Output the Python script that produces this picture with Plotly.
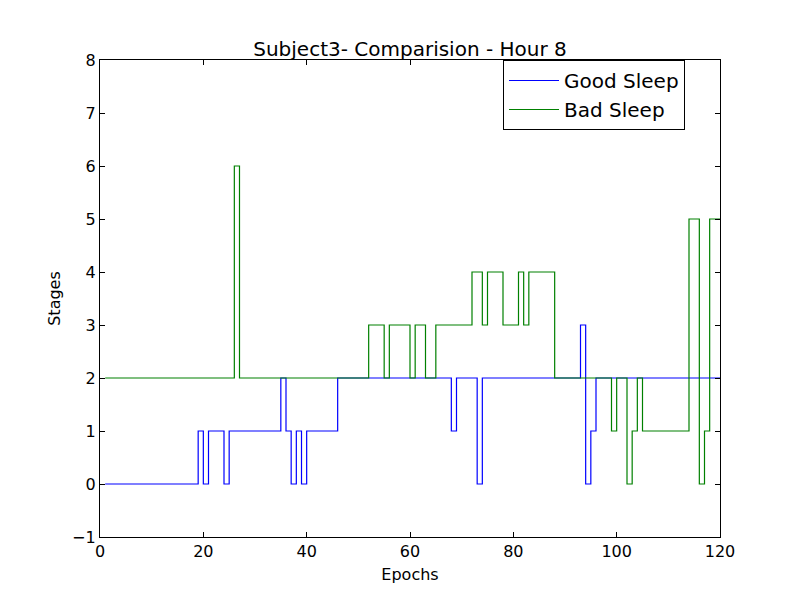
import plotly.graph_objects as go

# epochs 1..120, stage value held from each epoch to the next (step plot)
epochs = list(range(1, 121))

good_sleep = [0, 0, 0, 0, 0, 0, 0, 0, 0, 0, 0, 0, 0, 0, 0, 0, 0, 0,   # 1-18
              1, 0, 1, 1, 1, 0,                                       # 19-24
              1, 1, 1, 1, 1, 1, 1, 1, 1, 1,                           # 25-34
              2, 1, 0, 1, 0, 1, 1, 1, 1, 1, 1,                        # 35-45
              2, 2, 2, 2, 2, 2, 2, 2, 2, 2, 2, 2, 2, 2, 2, 2, 2, 2, 2, 2, 2, 2,  # 46-67
              1, 2, 2, 2, 2, 0,                                       # 68-73
              2, 2, 2, 2, 2, 2, 2, 2, 2, 2, 2, 2, 2, 2, 2, 2, 2, 2, 2,  # 74-92
              3, 0, 1,                                                # 93-95
              2, 2, 2, 2, 2, 2, 2, 2, 2, 2, 2, 2, 2, 2, 2, 2, 2, 2, 2, 2, 2, 2, 2, 2, 2]  # 96-120

bad_sleep = [2, 2, 2, 2, 2, 2, 2, 2, 2, 2, 2, 2, 2, 2, 2, 2, 2, 2, 2, 2, 2, 2, 2, 2, 2,  # 1-25
             6,                                                       # 26
             2, 2, 2, 2, 2, 2, 2, 2, 2, 2, 2, 2, 2, 2, 2, 2, 2, 2, 2, 2, 2, 2, 2, 2, 2,  # 27-51
             3, 3, 3, 2, 3, 3, 3, 3, 2, 3, 3, 2, 2,                   # 52-64
             3, 3, 3, 3, 3, 3, 3, 4, 4, 3, 4, 4, 4, 3, 3, 3, 4, 3,    # 65-82
             4, 4, 4, 4, 4,                                           # 83-87
             2, 2, 2, 2, 2, 2, 2, 2, 2, 2, 2,                         # 88-98
             1, 2, 2, 0, 1, 2,                                        # 99-104
             1, 1, 1, 1, 1, 1, 1, 1, 1,                               # 105-113
             5, 5, 0, 1, 5, 5, 5]                                     # 114-120

x_ticks = [0, 20, 40, 60, 80, 100, 120]
y_ticks = [-1, 0, 1, 2, 3, 4, 5, 6, 7, 8]

font = "DejaVu Sans"

fig = go.Figure()
fig.add_trace(go.Scatter(x=epochs, y=good_sleep, mode="lines", line_shape="hv",
                         line=dict(color="#0000ff", width=1.2), name="Good Sleep"))
fig.add_trace(go.Scatter(x=epochs, y=bad_sleep, mode="lines", line_shape="hv",
                         line=dict(color="#008000", width=1.2), name="Bad Sleep"))

axis_style = dict(showgrid=False, zeroline=False, showline=True, linecolor="black",
                  linewidth=1.2, mirror="allticks", ticks="inside", ticklen=5,
                  tickcolor="black", tickfont=dict(family=font, size=16, color="black"))

fig.update_xaxes(range=[0, 120], tickvals=x_ticks,
                 title=dict(text="Epochs", font=dict(family=font, size=16, color="black"),
                            standoff=8),
                 **axis_style)
fig.update_yaxes(range=[-1, 8], tickvals=y_ticks,
                 ticktext=["\u22121" if v < 0 else str(v) for v in y_ticks],
                 title=dict(text="Stages", font=dict(family=font, size=16, color="black"),
                            standoff=7),
                 **axis_style)

# the page puts the figure 8px in from the top-left corner
fig.update_layout(
    width=784, height=584,
    margin=dict(l=92, r=72, t=52, b=52),
    paper_bgcolor="white", plot_bgcolor="white",
    title=dict(text="Subject3- Comparision - Hour 8", x=0.5, xref="paper",
               y=1, yref="paper", yanchor="bottom", pad=dict(b=4),
               font=dict(family=font, size=20, color="black")),
    legend=dict(x=0.65, y=1, xanchor="left", yanchor="top",
                bordercolor="black", borderwidth=1, bgcolor="white",
                font=dict(family=font, size=20, color="black"),
                tracegroupgap=0, itemwidth=50, entrywidth=175),
    showlegend=True,
)

fig.write_html("out.html")
